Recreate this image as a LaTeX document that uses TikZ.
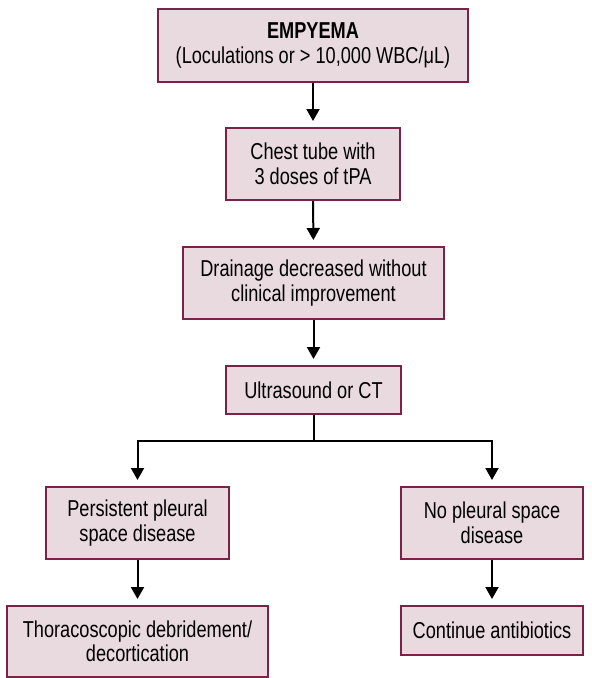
\documentclass[tikz,border=0pt]{standalone}
\usepackage{fontspec}
\setmainfont{Liberation Sans}[FakeStretch=0.79]
\usetikzlibrary{arrows.meta}
\definecolor{boxfill}{HTML}{E9DADF}
\definecolor{boxline}{HTML}{7A2248}
\begin{document}
\begin{tikzpicture}[x=1pt,y=-1pt,
  box/.style={draw=boxline, fill=boxfill, line width=2pt, inner sep=0pt, align=center,
    font=\fontsize{23}{24.5}\selectfont},
  conn/.style={line width=2pt},
  arr/.style={line width=2pt, -{Triangle[width=13pt,length=12pt]}, shorten >=6pt}]
\useasboundingbox (0,0) rectangle (592,678);
\node[box, minimum width=310pt, minimum height=73pt] (b1) at (313,45.5)
  {\textbf{EMPYEMA}\\(Loculations or > 10,000 WBC/μL)};
\node[box, minimum width=174pt, minimum height=72pt] (b2) at (313,164)
  {Chest tube with\\3 doses of tPA};
\node[box, minimum width=261pt, minimum height=72pt] (b3) at (313.5,283)
  {Drainage decreased without\\clinical improvement};
\node[box, minimum width=175pt, minimum height=48pt] (b4) at (313.5,390)
  {Ultrasound or CT};
\node[box, minimum width=183pt, minimum height=72pt] (b5) at (137.5,523)
  {Persistent pleural\\space disease};
\node[box, minimum width=261pt, minimum height=71pt] (b6) at (137.5,641.5)
  {Thoracoscopic debridement/\\decortication};
\node[box, minimum width=182pt, minimum height=72pt] (b7) at (492,523)
  {No pleural space\\disease};
\node[box, minimum width=182pt, minimum height=49pt] (b8) at (492,630.5)
  {Continue antibiotics};
\coordinate (split) at (313.5,441);
\draw[arr] (b1) -- (b2);
\draw[arr] (b2) -- (b3);
\draw[arr] (b3) -- (b4);
\draw[conn] (b4.south) -- (split);
\draw[arr] (split) -| (b5.north);
\draw[arr] (split) -| (b7.north);
\draw[arr] (b5) -- (b6);
\draw[arr] (b7) -- (b8);
\end{tikzpicture}
\end{document}
